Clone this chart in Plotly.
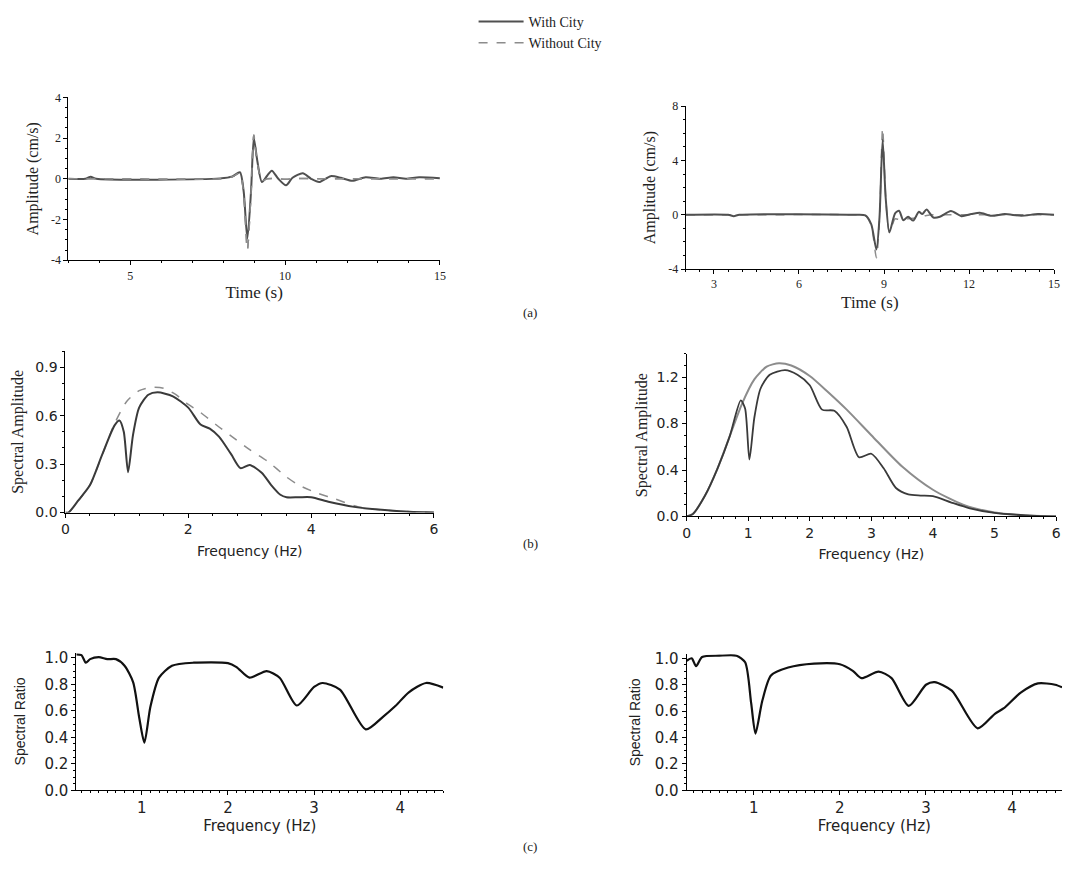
import plotly.graph_objects as go

# ---------------- (a) time histories ----------------
t_left = [3, 3.55, 3.72, 3.9, 7.9, 8.3, 8.54, 8.66, 8.78, 8.9, 8.99, 9.1, 9.25, 9.42, 9.57, 9.78,
          10.03, 10.24, 10.57, 10.84, 11.1, 11.47, 11.8, 12.17, 12.6, 13.08, 13.5, 13.9, 14.33, 15]
amp_left_city = [0, 0, 0.1, 0, 0.02, 0.12, 0.32, -0.6, -2.95, -0.6, 2.0, 0.9, -0.16, 0.15, 0.4, 0.0,
                 -0.32, 0.05, 0.27, 0.0, -0.16, 0.13, 0.05, -0.1, 0.08, 0.0, 0.08, 0.0, 0.08, 0.03]
amp_left_nocity = [0, 0, 0, 0, 0, 0.1, 0.28, -0.7, -3.5, -0.7, 2.15, 0.8, -0.1, 0.0, 0.02, 0.0,
                   -0.02, 0.0, 0.02, 0.0, 0.0, 0.0, 0.0, 0.0, 0.0, 0.0, 0.0, 0.0, 0.0, 0.0]

t_right = [2, 3.5, 3.7, 3.9, 8.0, 8.34, 8.55, 8.73, 8.84, 8.95, 9.06, 9.19, 9.39, 9.53, 9.68, 9.85,
           10.03, 10.23, 10.35, 10.5, 10.74, 10.97, 11.36, 11.73, 12.08, 12.38, 12.79, 13.26, 13.84, 14.43, 15]
amp_right_city = [0, 0, -0.1, 0, 0, -0.05, -0.7, -2.56, -0.2, 5.53, 1.2, -1.3, 0.1, 0.3, -0.4, -0.15,
                  -0.43, 0.22, 0.05, 0.39, -0.2, -0.15, 0.27, -0.1, 0.05, 0.15, -0.07, 0.05, -0.07, 0.05, 0]
amp_right_nocity = [0, 0, 0, 0, 0, -0.05, -0.8, -3.16, -0.3, 6.4, 1.3, -1.3, -0.3, -0.35, -0.35, -0.3,
                    -0.25, -0.2, -0.12, -0.05, 0.0, 0.0, 0.0, 0.0, 0.0, 0.0, 0.0, 0.0, 0.0, 0.0, 0]

amp_left_ticks = [-4, -2, 0, 2, 4]
amp_left_ticktext = ["-4", "-2", "0", "2", "4"]
amp_right_ticks = [-4, 0, 4, 8]
amp_right_ticktext = ["-4", "0", "4", "8"]

# ---------------- (b) Fourier spectra ----------------
f_left = [0, 0.05, 0.2, 0.4, 0.6, 0.8, 0.88, 0.95, 1.02, 1.1, 1.2, 1.35, 1.5, 1.75, 2.0, 2.2, 2.35,
          2.5, 2.7, 2.85, 3.0, 3.2, 3.35, 3.5, 3.6, 3.8, 4.0, 4.3, 4.7, 5.2, 5.6, 6.0]
spec_left_city = [0, 0, 0.07, 0.17, 0.36, 0.54, 0.57, 0.5, 0.25, 0.48, 0.65, 0.73, 0.745, 0.72, 0.65,
                  0.545, 0.52, 0.47, 0.36, 0.275, 0.295, 0.245, 0.17, 0.11, 0.095, 0.095, 0.095, 0.065,
                  0.035, 0.015, 0.005, 0.0]
f_left_nocity = [0, 0.05, 0.2, 0.4, 0.6, 0.8, 1.0, 1.2, 1.4, 1.6, 1.8, 2.0, 2.2, 2.5, 2.75, 3.0,
                 3.3, 3.6, 3.8, 4.1, 4.35, 4.77, 5.2, 5.6, 6.0]
spec_left_nocity = [0, 0, 0.07, 0.17, 0.36, 0.55, 0.69, 0.755, 0.776, 0.77, 0.73, 0.67, 0.62, 0.53,
                    0.46, 0.39, 0.315, 0.22, 0.17, 0.12, 0.09, 0.035, 0.015, 0.005, 0.0]

f_right = [0, 0.1, 0.3, 0.5, 0.7, 0.88, 0.95, 1.02, 1.1, 1.2, 1.35, 1.6, 1.8, 2.0, 2.2, 2.4, 2.6,
           2.8, 3.0, 3.2, 3.4, 3.6, 3.8, 4.0, 4.3, 4.6, 5.0, 5.5, 6.0]
spec_right_city = [0, 0.02, 0.18, 0.41, 0.69, 1.0, 0.93, 0.49, 0.85, 1.1, 1.22, 1.26, 1.22, 1.13,
                   0.92, 0.91, 0.77, 0.51, 0.54, 0.415, 0.245, 0.19, 0.18, 0.175, 0.12, 0.07, 0.03,
                   0.01, 0.0]
f_right_nocity = [0, 0.1, 0.3, 0.5, 0.7, 0.9, 1.1, 1.3, 1.5, 1.7, 2.0, 2.3, 2.6, 3.0, 3.5, 4.0,
                  4.5, 5.0, 5.5, 6.0]
spec_right_nocity = [0, 0.02, 0.18, 0.41, 0.69, 0.97, 1.18, 1.29, 1.32, 1.3, 1.21, 1.07, 0.92, 0.70,
                     0.43, 0.23, 0.10, 0.035, 0.01, 0.0]

# ---------------- (c) spectral ratios ----------------
f_ratio_left = [0.24, 0.3, 0.35, 0.4, 0.5, 0.6, 0.7, 0.8, 0.9, 0.97, 1.03, 1.1, 1.2, 1.35, 1.6,
                2.0, 2.1, 2.25, 2.45, 2.6, 2.8, 3.0, 3.1, 3.3, 3.6, 3.8, 3.95, 4.1, 4.3, 4.5]
ratio_left = [1.025, 1.02, 0.963, 0.99, 1.005, 0.99, 0.99, 0.94, 0.815, 0.55, 0.36, 0.63, 0.85, 0.94,
              0.963, 0.96, 0.93, 0.85, 0.9, 0.85, 0.64, 0.78, 0.81, 0.76, 0.46, 0.555, 0.64, 0.74,
              0.81, 0.775]

f_ratio_right = [0.22, 0.28, 0.33, 0.4, 0.6, 0.8, 0.9, 0.97, 1.02, 1.1, 1.2, 1.4, 1.7, 2.0, 2.15,
                 2.25, 2.45, 2.6, 2.8, 3.0, 3.1, 3.3, 3.6, 3.8, 3.9, 4.1, 4.3, 4.5, 4.58]
ratio_right = [0.98, 1.0, 0.94, 1.01, 1.02, 1.02, 0.97, 0.66, 0.43, 0.68, 0.87, 0.93, 0.96, 0.955,
               0.905, 0.85, 0.9, 0.85, 0.64, 0.8, 0.82, 0.755, 0.47, 0.58, 0.62, 0.74, 0.81, 0.8, 0.78]

W, H = 1073, 870
DARK = "#3a3a3a"
GREY = "#8c8c8c"
SERIF = "Liberation Serif, Times New Roman, serif"
SANS = "Liberation Sans, Arial, sans-serif"
WIDE = "DejaVu Sans, Verdana, sans-serif"

fig = go.Figure()


def line(x, y, ax, color, width, dash="solid", name=None, legend=False, smoothing=0.7):
    fig.add_trace(go.Scatter(
        x=x, y=y, xaxis="x" + ax, yaxis="y" + ax, mode="lines",
        line=dict(color=color, width=width, dash=dash, shape="spline", smoothing=smoothing),
        name=name, showlegend=legend, hoverinfo="skip"))


line(t_left, amp_left_nocity, "", GREY, 1.5, "dash", "Without City", False)
line(t_left, amp_left_city, "", "#505050", 2, "solid", "With City", True)
line(t_left, amp_left_nocity, "", GREY, 1.5, "dash", "Without City", True)
line(t_right, amp_right_nocity, "2", GREY, 1.5, "dash")
line(t_right, amp_right_city, "2", "#505050", 2)
line(f_left_nocity, spec_left_nocity, "3", GREY, 1.5, "dash")
line(f_left, spec_left_city, "3", DARK, 2)
line(f_right_nocity, spec_right_nocity, "4", GREY, 2)
line(f_right, spec_right_city, "4", DARK, 1.8)
line(f_ratio_left, ratio_left, "5", "#111111", 2.2)
line(f_ratio_right, ratio_right, "6", "#111111", 2.2)


def px_dom(a, b):
    return [a / W, b / W]


def py_dom(top, bottom):
    return [1 - bottom / H, 1 - top / H]


def axis(domain, rng, dtick, minor, font, size, title, tfont, tsize, standoff, anchor, tick0=None,
         fmt=None, tickvals=None, ticktext=None):
    d = dict(domain=domain, range=rng, dtick=dtick, showline=True, linecolor="black", linewidth=1,
             ticks="outside", ticklen=4, tickcolor="black", tickwidth=1, showgrid=False,
             zeroline=False, mirror=False, anchor=anchor,
             tickfont=dict(family=font, size=size, color="#222"),
             minor=dict(ticks="outside", ticklen=2, dtick=minor, tickcolor="black", showgrid=False),
             title=dict(text=title, font=dict(family=tfont, size=tsize, color="#222"), standoff=standoff))
    if tick0 is not None:
        d["tick0"] = tick0
    if fmt is not None:
        d["tickformat"] = fmt
    if tickvals is not None:
        d["tickmode"] = "array"
        d["tickvals"] = tickvals
        d["ticktext"] = ticktext
    return d


fig.update_layout(
    width=W, height=H, margin=dict(l=0, r=0, t=0, b=0),
    paper_bgcolor="white", plot_bgcolor="rgba(0,0,0,0)",
    showlegend=True,
    legend=dict(x=474 / W, y=1 + 1 / H, xanchor="left", yanchor="top", bgcolor="rgba(0,0,0,0)",
                font=dict(family=SERIF, size=14, color="#222"), tracegroupgap=2, itemwidth=45),
    # (a) left
    xaxis=axis(px_dom(65, 440), [3, 15], 5, 1, SERIF, 12, "Time (s)", SERIF, 17, 1, "y", 0),
    yaxis=axis(py_dom(92, 258), [-4, 4], 2, 0.5, SERIF, 12, "Amplitude (cm/s)", SERIF, 16, 8, "x",
               tickvals=amp_left_ticks, ticktext=amp_left_ticktext),
    # (a) right
    xaxis2=axis(px_dom(688, 1060), [2, 15], 3, 0.5, SERIF, 12, "Time (s)", SERIF, 17, 5, "y2", 0),
    yaxis2=axis(py_dom(101, 267), [-4, 8], 4, 1, SERIF, 12, "Amplitude (cm/s)", SERIF, 16, 8, "x2",
                tickvals=amp_right_ticks, ticktext=amp_right_ticktext),
    # (b) left
    xaxis3=axis(px_dom(62, 434), [0, 6], 2, 0.4, WIDE, 14, "Frequency (Hz)", WIDE, 14, 9, "y3", 0),
    yaxis3=axis(py_dom(350.6, 515), [0, 1.0], 0.3, 0.1, WIDE, 14, "Spectral Amplitude", SERIF, 16, 7, "x3", 0,
                fmt=".1f"),
    # (b) right
    xaxis4=axis(px_dom(689, 1062), [0, 6], 1, 0.2, WIDE, 14, "Frequency (Hz)", WIDE, 14, 8, "y4", 0),
    yaxis4=axis(py_dom(353.4, 519), [0, 1.4], 0.4, 0.1, WIDE, 14, "Spectral Amplitude", SERIF, 16, 4, "x4", 0,
                fmt=".1f"),
    # (c) left
    xaxis5=axis(px_dom(73, 443.4), [0.24, 4.5], 1, 0.1, WIDE, 15, "Frequency (Hz)", WIDE, 15, 0, "y5", 0),
    yaxis5=axis(py_dom(657.6, 798), [0, 1.04], 0.2, 0.05, WIDE, 15, "Spectral Ratio", SANS, 14, 15, "x5", 0,
                fmt=".1f"),
    # (c) right
    xaxis6=axis(px_dom(689, 1068), [0.22, 4.58], 1, 0.1, WIDE, 15, "Frequency (Hz)", WIDE, 15, 0, "y6", 0),
    yaxis6=axis(py_dom(659.5, 798), [0, 1.03], 0.2, 0.05, WIDE, 15, "Spectral Ratio", SANS, 14, 10, "x6", 0,
                fmt=".1f"),
)

for label, ypx in [("(a)", 311), ("(b)", 547), ("(c)", 855)]:
    fig.add_annotation(text=label, xref="paper", yref="paper", x=531 / W, y=1 - ypx / H,
                       showarrow=False, font=dict(family=SERIF, size=13, color="#222"),
                       xanchor="center", yanchor="middle")

fig.write_html("out.html")
